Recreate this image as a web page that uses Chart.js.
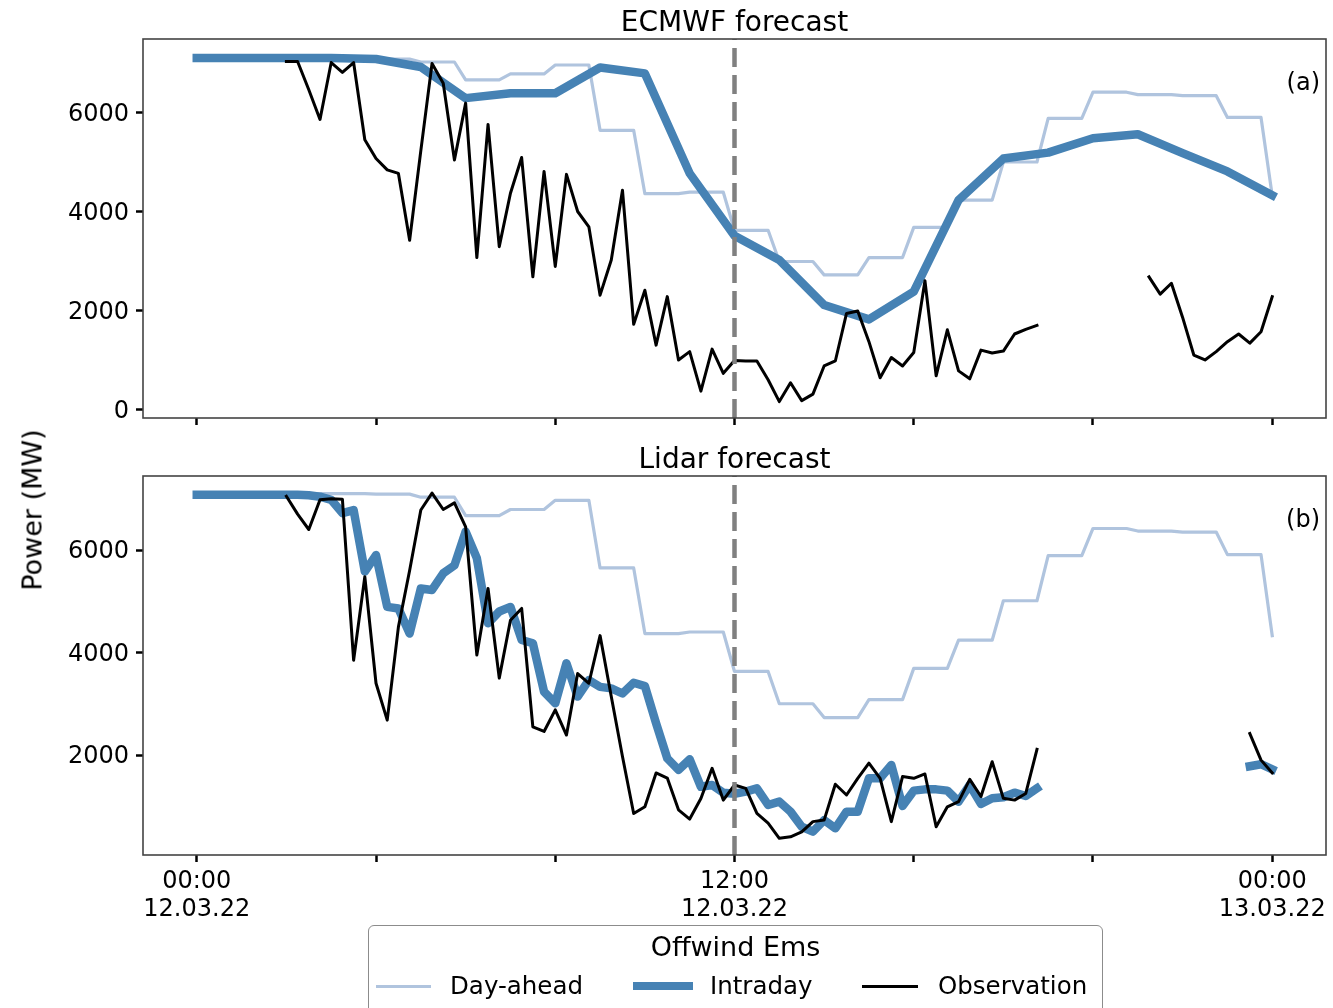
<!DOCTYPE html>
<html>
<head>
<meta charset="utf-8">
<script src="https://cdn.jsdelivr.net/npm/chart.js@4.4.0/dist/chart.umd.min.js"></script>
<style>
html,body{margin:0;padding:0;background:#fff;}
body{width:1333px;height:1008px;position:relative;overflow:hidden;font-family:'DejaVu Sans',sans-serif;color:#000;}
canvas{position:absolute;left:0;}
#topChart{top:0;}
#botChart{top:440px;}
#ylabel{position:absolute;left:32px;top:510px;transform:translate(-50%,-50%) rotate(-90deg);font-size:27px;white-space:nowrap;}
#legend{position:absolute;left:368px;top:925px;width:735px;height:100px;border:1.5px solid #8c8c8c;border-radius:6px;background:#fff;box-sizing:border-box;}
#legend .ttl{position:absolute;left:0;width:100%;top:5px;text-align:center;font-size:27px;line-height:32px;}
#legend .sw{position:absolute;}
#legend .lb{position:absolute;font-size:24.5px;line-height:28px;top:46px;white-space:nowrap;}
</style>
</head>
<body>
<canvas id="topChart" width="1333" height="440"></canvas>
<canvas id="botChart" width="1333" height="568"></canvas>
<div id="ylabel">Power (MW)</div>
<div id="legend">
  <div class="ttl">Offwind Ems</div>
  <div class="sw" style="left:7px;width:55px;top:59px;height:3px;background:#B0C4DE"></div>
  <div class="lb" style="left:81px">Day-ahead</div>
  <div class="sw" style="left:264px;width:60px;top:56px;height:8px;background:#4682B4"></div>
  <div class="lb" style="left:341px">Intraday</div>
  <div class="sw" style="left:493px;width:56px;top:59px;height:3px;background:#000"></div>
  <div class="lb" style="left:569px">Observation</div>
</div>
<script>
// ---------------- data ----------------
const stepHours = 0.25;           // observation / lidar resolution (15 min)
const nowHour = 12;               // issue time marker (12:00)
const xTickHours = [0, 4, 8, 12, 16, 20, 24];
const xTickLabels = {0: ['00:00', '12.03.22'], 12: ['12:00', '12.03.22'], 24: ['00:00', '13.03.22']};
const topYTicks = [0, 2000, 4000, 6000];
const botYTicks = [2000, 4000, 6000];

// Day-ahead forecast, hourly values (00:00 ... 24:00)
const dayAheadHourly = [7100,7100,7100,7100,7090,7030,6670,6790,6970,5650,4370,4400,
                        3630,3000,2730,3080,3690,4240,5010,5890,6420,6370,6350,5910,4330];

// ECMWF intraday forecast, hourly values (00:00 ... 24:00)
const ecmwfIntradayHourly = [7110,7110,7110,7110,7090,6930,6300,6400,6400,6920,6800,4780,
                             3520,3030,2120,1830,2390,4240,5080,5200,5490,5570,5190,4820,4340];

// Observation shown in panel (a), 15-min values
const obsPanelA = [
  null,null,null,null,  null,null,null,null,  7040,7040,6470,5870,  7020,6820,7020,5460,
  5080,4850,4780,3430,  5240,7000,6600,5050,  6200,3080,5770,3300,  4380,5100,2690,4820,
  2900,4760,4010,3700,  2320,3030,4440,1730,  2420,1310,2290,1010,  1180,380,1230,740,
  1000,990,990,610,     170,550,190,320,      890,990,1950,2000,    1380,650,1060,890,
  1160,2610,690,1620,   790,630,1210,1150,    1190,1535,1630,1710,  null,null,null,null,
  null,null,null,null,  null,2690,2340,2560,  1870,1110,1010,1180,  1380,1535,1350,1580,
  2290];

// Lidar intraday forecast, 15-min values
const lidarIntraday = [
  7080,7080,7080,7080,  7080,7080,7080,7080,  7080,7080,7070,7040,  6980,6720,6780,5580,
  5900,4890,4860,4370,  5250,5220,5545,5700,  6360,5840,4570,4800,  4890,4245,4180,3235,
  3010,3790,3140,3460,  3330,3300,3200,3410,  3345,2620,1935,1710,  1915,1380,1415,1265,
  1245,1285,1350,1025,  1090,895,600,505,     730,570,895,895,      1545,1545,1805,1005,
  1305,1330,1330,1305,  1090,1415,1045,1155,  1175,1265,1200,1350,  null,null,null,null,
  null,null,null,null,  null,null,null,null,  null,null,null,null,  null,null,1780,1820,
  1720];

// Observation shown in panel (b), 15-min values
const obsPanelB = [
  null,null,null,null,  null,null,null,null,  7050,6700,6400,6980,  7000,6990,3850,5480,
  3400,2680,4500,5600,  6780,7110,6790,6920,  6450,3950,5250,3500,  4630,4860,2550,2460,
  2880,2390,3590,3400,  4330,3140,1970,860,   990,1650,1550,930,    750,1150,1740,1120,
  1415,1350,860,670,    375,405,500,700,      730,1430,1220,1545,   1840,1545,700,1580,
  1545,1630,600,990,    1090,1525,1190,1870,  1155,1120,1250,2110,  null,null,null,null,
  null,null,null,null,  null,null,null,null,  null,null,null,null,  null,null,2420,1900,
  1650];

// ---------------- helpers ----------------
const quarterPoints = arr => arr.map((v, i) => ({x: i * stepHours, y: v}));
const hourlyPoints = arr => arr.map((v, i) => ({x: i, y: v}));
function dayAheadPoints(h) {           // hourly values held through each hour
  const pts = [];
  for (let i = 0; i < h.length - 1; i++)
    for (let k = 0; k < 4; k++) pts.push({x: i + k * stepHours, y: h[i]});
  pts.push({x: h.length - 1, y: h[h.length - 1]});
  return pts;
}

Chart.defaults.font.family = "'DejaVu Sans', sans-serif";
Chart.defaults.color = '#000';

const COL_DA = '#B0C4DE', COL_ID = '#4682B4', COL_OBS = '#000000';

const panelPlugin = {
  id: 'panelDeco',
  afterDatasetsDraw(chart, args, opts) {
    const {ctx, chartArea: a, scales: {x}} = chart;
    ctx.save();
    const px = x.getPixelForValue(nowHour);
    ctx.strokeStyle = '#808080';
    ctx.lineWidth = 4.5;
    ctx.setLineDash([19, 8]);
    ctx.beginPath(); ctx.moveTo(px, a.bottom); ctx.lineTo(px, a.top); ctx.stroke();
    ctx.setLineDash([]);
    ctx.strokeStyle = '#444';
    ctx.lineWidth = 1.6;
    ctx.strokeRect(a.left, a.top, a.right - a.left, a.bottom - a.top);
    ctx.fillStyle = '#000';
    ctx.font = "28px 'DejaVu Sans'";
    ctx.textAlign = 'center'; ctx.textBaseline = 'alphabetic';
    ctx.fillText(opts.title, (a.left + a.right) / 2, a.top - 8);
    ctx.font = "24px 'DejaVu Sans'";
    ctx.textAlign = 'right'; ctx.textBaseline = 'middle';
    ctx.fillText(opts.panel, a.right - 6, a.top + 45);
    ctx.restore();
  }
};

function lineDS(label, data, color, width, order) {
  return {label, data, borderColor: color, backgroundColor: color, borderWidth: width,
          pointRadius: 0, tension: 0, fill: false, spanGaps: false, order,
          borderJoinStyle: 'round', borderCapStyle: 'square'};
}

function makeChart(id, opts) {
  return new Chart(document.getElementById(id), {
    type: 'line',
    data: {datasets: [
      lineDS('Day-ahead', opts.da, COL_DA, 3.2, 3),
      lineDS('Intraday', opts.id, COL_ID, 8.5, 2),
      lineDS('Observation', opts.obs, COL_OBS, 3, 1)
    ]},
    plugins: [panelPlugin],
    options: {
      responsive: false, animation: false, devicePixelRatio: 1,
      layout: {padding: {top: opts.padTop, right: 7, left: 0, bottom: 0}},
      plugins: {legend: {display: false}, tooltip: {enabled: false},
                panelDeco: {title: opts.title, panel: opts.panel}},
      scales: {
        x: {
          type: 'linear', min: -1.2, max: 25.2,
          afterBuildTicks: ax => { ax.ticks = xTickHours.map(v => ({value: v})); },
          afterFit: s => { s.height = opts.xHeight; },
          grid: {drawOnChartArea: false, drawTicks: true, tickLength: 7, tickWidth: 2.5, tickColor: '#000'},
          border: {display: false},
          ticks: {autoSkip: false, maxRotation: 0, padding: 5, font: {size: 24, lineHeight: 1.2}, color: '#000',
                  callback: v => opts.showX ? (xTickLabels[v] || '') : ''}
        },
        y: {
          type: 'linear', min: opts.yMin, max: opts.yMax,
          afterBuildTicks: ax => { ax.ticks = opts.yTicks.map(v => ({value: v})); },
          afterFit: s => { s.width = 143; },
          grid: {drawOnChartArea: false, drawTicks: true, tickLength: 7, tickWidth: 2.5, tickColor: '#000'},
          border: {display: false},
          ticks: {padding: 7, labelOffset: 2, font: {size: 24}, color: '#000', callback: v => String(v)}
        }
      }
    }
  });
}

makeChart('topChart', {
  da: dayAheadPoints(dayAheadHourly), id: hourlyPoints(ecmwfIntradayHourly), obs: quarterPoints(obsPanelA),
  title: 'ECMWF forecast', panel: '(a)', padTop: 39, xHeight: 22, showX: false,
  yMin: -162, yMax: 7495, yTicks: topYTicks
});
makeChart('botChart', {
  da: dayAheadPoints(dayAheadHourly), id: quarterPoints(lidarIntraday), obs: quarterPoints(obsPanelB),
  title: 'Lidar forecast', panel: '(b)', padTop: 36, xHeight: 153, showX: true,
  yMin: 49, yMax: 7444, yTicks: botYTicks
});
</script>
</body>
</html>
